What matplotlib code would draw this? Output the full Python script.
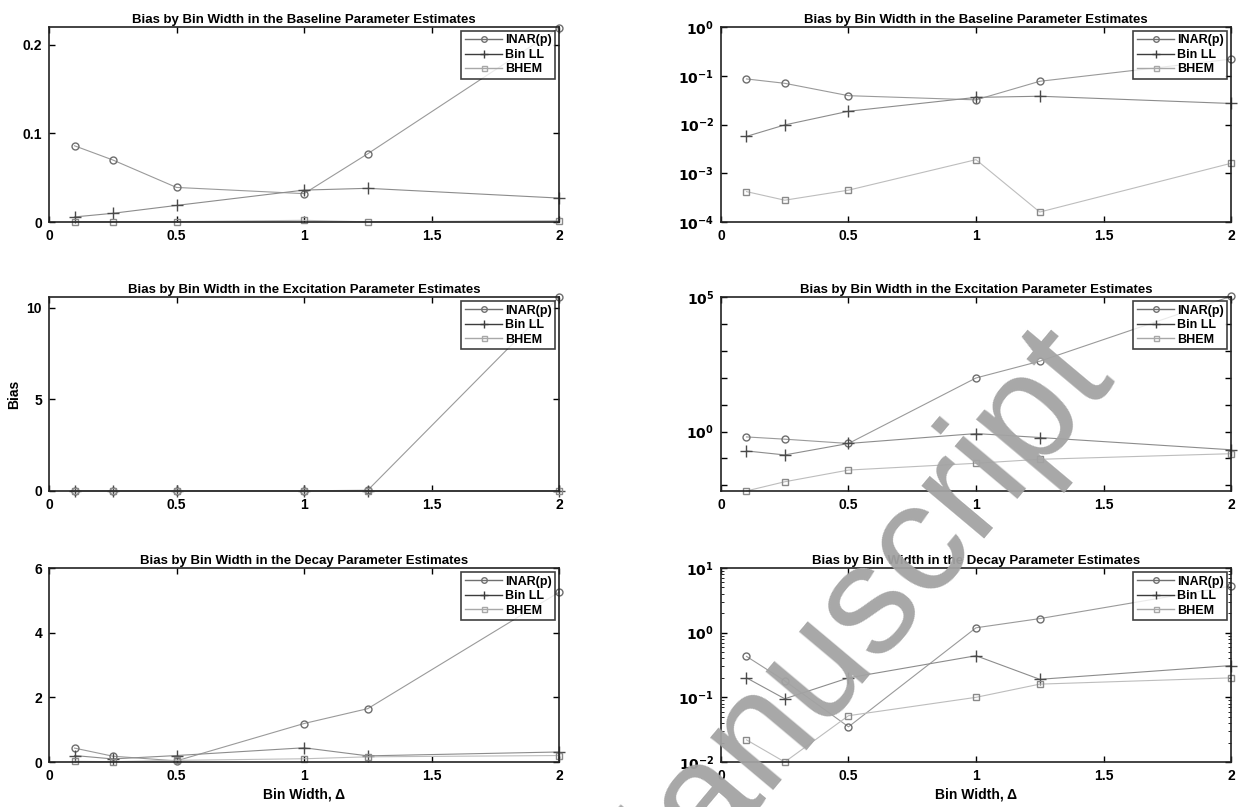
import numpy as np
import matplotlib
matplotlib.use("agg")
import matplotlib.pyplot as plt
from matplotlib.ticker import FixedLocator, FuncFormatter, NullLocator, LogLocator

plt.rcParams["font.family"] = ["Liberation Sans", "DejaVu Sans"]
plt.rcParams["mathtext.default"] = "bf"

# bin widths
BIN_WIDTH = [0.1, 0.25, 0.5, 1.0, 1.25, 2.0]
METHODS = ["INAR(p)", "Bin LL", "BHEM"]

# bias in the baseline parameter
BASE_INAR = [0.086, 0.070, 0.039, 0.032, 0.077, 0.219]
BASE_BINLL = [0.0057, 0.0098, 0.0187, 0.036, 0.038, 0.027]
BASE_BHEM = [0.00042, 0.00028, 0.00045, 0.0019, 0.00016, 0.0016]

# bias in the excitation parameter
EXC_INAR = [0.63, 0.52, 0.36, 98.0, 410.0, 106000.0]
EXC_BINLL = [0.19, 0.135, 0.36, 0.84, 0.60, 0.21]
EXC_BHEM = [0.0062, 0.0136, 0.037, 0.066, 0.093, 0.15]

# bias in the decay parameter
DEC_INAR = [0.43, 0.18, 0.035, 1.19, 1.65, 5.25]
DEC_BINLL = [0.20, 0.095, 0.20, 0.44, 0.19, 0.31]
DEC_BHEM = [0.022, 0.010, 0.052, 0.10, 0.16, 0.20]

TITLES = ["Bias by Bin Width in the Baseline Parameter Estimates",
          "Bias by Bin Width in the Excitation Parameter Estimates",
          "Bias by Bin Width in the Decay Parameter Estimates"]

STYLE = {"INAR(p)": dict(color="#9a9a9a", marker="o", ms=5, mec="#6e6e6e", mfc="none"),
         "Bin LL": dict(color="#8c8c8c", marker="+", ms=8, mec="#4a4a4a", mew=1.0),
         "BHEM": dict(color="#bdbdbd", marker="s", ms=4.5, mec="#8a8a8a", mfc="none")}
LEG_COL = {"INAR(p)": "#707070", "Bin LL": "#3c3c3c", "BHEM": "#a8a8a8"}

W, H = 1248, 807
COLS = [(49, 559), (721, 1231)]
ROWS = [(27, 222), (297, 491), (568, 762)]


def make_ax(fig, col, row):
    x0, x1 = COLS[col]
    y0, y1 = ROWS[row]
    return fig.add_axes([x0 / W, 1 - y1 / H, (x1 - x0) / W, (y1 - y0) / H])


def bold_ticks(ax):
    for lab in ax.get_xticklabels() + ax.get_yticklabels():
        lab.set_fontweight("bold")


def log_label(shown=None):
    def fmt(v, p):
        k = int(round(np.log10(v)))
        if shown is not None and k not in shown:
            return ""
        return r"$10^{%d}$" % k
    return FuncFormatter(fmt)


def draw(ax, series, title, log=False):
    for name, vals in zip(METHODS, series):
        ax.plot(BIN_WIDTH, vals, lw=0.8, label=name, clip_on=False, **STYLE[name])
    if log:
        ax.set_yscale("log")
    ax.set_xlim(0, 2)
    ax.set_xticks([0, 0.5, 1, 1.5, 2])
    ax.xaxis.set_major_formatter(FuncFormatter(lambda v, p: "%g" % v))
    ax.set_title(title, fontsize=9.5, fontweight="bold", pad=3)
    ax.tick_params(direction="in", length=4, width=1.0, top=True, right=True,
                   labelsize=10, pad=5)
    for s in ax.spines.values():
        s.set_linewidth(1.2)
        s.set_color("#222222")
    # legend in MATLAB style
    handles = [plt.Line2D([], [], color=LEG_COL[n], lw=1.0, marker=STYLE[n]["marker"],
                          ms=STYLE[n]["ms"] * 0.8, mfc="none", mec=LEG_COL[n]) for n in METHODS]
    leg = ax.legend(handles, METHODS, loc="upper right", frameon=True,
                    fancybox=False, handlelength=3.0, handletextpad=0.2,
                    borderpad=0.3, labelspacing=0.2, borderaxespad=0.3,
                    prop={"weight": "bold", "size": 9})
    leg.get_frame().set_edgecolor("#111111")
    leg.get_frame().set_linewidth(1.2)


fig = plt.figure(figsize=(W / 100, H / 100), dpi=100)

# row 1: baseline
ax = make_ax(fig, 0, 0)
draw(ax, [BASE_INAR, BASE_BINLL, BASE_BHEM], TITLES[0])
ax.set_ylim(0, 0.22)
ax.set_yticks([0, 0.1, 0.2])
ax.yaxis.set_major_formatter(FuncFormatter(lambda v, p: "%g" % v))
bold_ticks(ax)

ax = make_ax(fig, 1, 0)
draw(ax, [BASE_INAR, BASE_BINLL, BASE_BHEM], TITLES[0], log=True)
ax.set_ylim(1e-4, 1e0)
ax.yaxis.set_major_locator(FixedLocator([1e-4, 1e-3, 1e-2, 1e-1, 1e0]))
ax.yaxis.set_major_formatter(log_label())
ax.yaxis.set_minor_locator(NullLocator())
bold_ticks(ax)

# row 2: excitation (left panel values shown in units of 1e4)
ax = make_ax(fig, 0, 1)
draw(ax, [EXC_INAR, EXC_BINLL, EXC_BHEM], TITLES[1])
ax.set_ylim(0, 106000)
ax.set_yticks([0, 50000, 100000])
ax.yaxis.set_major_formatter(FuncFormatter(lambda v, p: "%g" % (v / 1e4)))
bold_ticks(ax)
ax.set_ylabel("Bias", fontsize=10, fontweight="bold", labelpad=4)

ax = make_ax(fig, 1, 1)
draw(ax, [EXC_INAR, EXC_BINLL, EXC_BHEM], TITLES[1], log=True)
ax.set_ylim(10 ** -2.21, 1e5)
ax.yaxis.set_major_locator(FixedLocator([10.0 ** k for k in range(-2, 6)]))
ax.yaxis.set_major_formatter(log_label(shown=(0, 5)))
ax.yaxis.set_minor_locator(NullLocator())
bold_ticks(ax)

# row 3: decay
ax = make_ax(fig, 0, 2)
draw(ax, [DEC_INAR, DEC_BINLL, DEC_BHEM], TITLES[2])
ax.set_ylim(0, 6)
ax.set_yticks([0, 2, 4, 6])
ax.set_xlabel("Bin Width, \u0394", fontsize=10, fontweight="bold", labelpad=3)
bold_ticks(ax)

ax = make_ax(fig, 1, 2)
draw(ax, [DEC_INAR, DEC_BINLL, DEC_BHEM], TITLES[2], log=True)
ax.set_ylim(1e-2, 1e1)
ax.yaxis.set_major_locator(FixedLocator([1e-2, 1e-1, 1e0, 1e1]))
ax.yaxis.set_major_formatter(log_label())
ax.yaxis.set_minor_locator(LogLocator(base=10, subs=np.arange(2, 10)))
ax.tick_params(which="minor", direction="in", length=2.5, right=True)
ax.set_xlabel("Bin Width, \u0394", fontsize=10, fontweight="bold", labelpad=3)
bold_ticks(ax)

# watermark
fig.text(868 / W, 1 - 662 / H, "Manuscript", fontsize=112, color="#a3a3a3",
         rotation=50, rotation_mode="anchor", ha="center", va="baseline",
         zorder=10, alpha=0.95)

fig.savefig("out.png", dpi=100)
